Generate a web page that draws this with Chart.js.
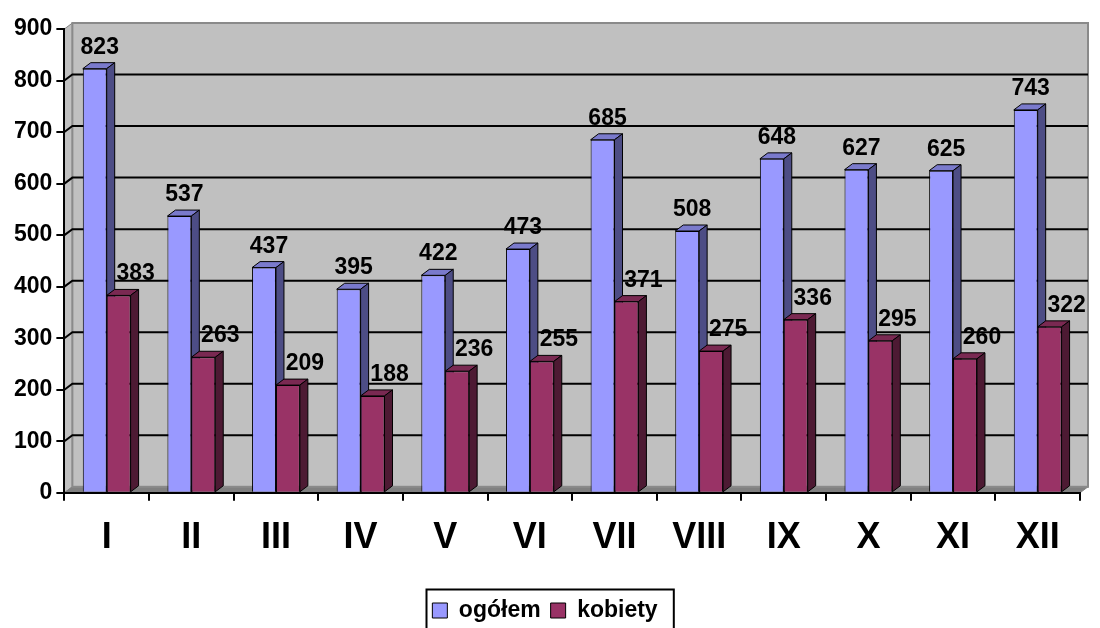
<!DOCTYPE html>
<html>
<head>
<meta charset="utf-8">
<script src="https://cdn.jsdelivr.net/npm/chart.js@4.4.0/dist/chart.umd.min.js"></script>
<style>
html, body { margin: 0; padding: 0; background: #fff; }
#wrap { width: 1100px; height: 628px; }
</style>
</head>
<body>
<div id="wrap"><canvas id="chartMonthly"></canvas></div>
<script>
// dane
const months = ['I', 'II', 'III', 'IV', 'V', 'VI', 'VII', 'VIII', 'IX', 'X', 'XI', 'XII'];
const ogolem = [823, 537, 437, 395, 422, 473, 685, 508, 648, 627, 625, 743];
const kobiety = [383, 263, 209, 188, 236, 255, 371, 275, 336, 295, 260, 322];
const yMax = 900;
const yStep = 100;

// głębokość 3D
const DX = 8, DY = 6;
const faces = [
    { top: '#7a7acc', side: '#4d4d85' },
    { top: '#7a2952', side: '#4d1a33' }
];
const labelShift = [5, 17];
const FONT = 'Arial, "Liberation Sans", sans-serif';

// ściany, podłoga, linie siatki
const wallPlugin = {
    id: 'wall3d',
    beforeDraw(chart) {
        const { ctx, chartArea: a, scales } = chart;
        const y = scales.y;
        ctx.save();
        ctx.fillStyle = '#c0c0c0';
        ctx.fillRect(a.left + DX, a.top - DY, a.right - a.left, a.bottom - a.top);
        // lewa ściana
        ctx.beginPath();
        ctx.moveTo(a.left, a.top);
        ctx.lineTo(a.left + DX, a.top - DY);
        ctx.lineTo(a.left + DX, a.bottom - DY);
        ctx.lineTo(a.left, a.bottom);
        ctx.closePath();
        ctx.fill();
        ctx.strokeStyle = '#808080';
        ctx.lineWidth = 1;
        ctx.stroke();
        // podłoga
        ctx.beginPath();
        ctx.moveTo(a.left, a.bottom);
        ctx.lineTo(a.left + DX, a.bottom - DY);
        ctx.lineTo(a.right + DX, a.bottom - DY);
        ctx.lineTo(a.right, a.bottom);
        ctx.closePath();
        ctx.fillStyle = '#808080';
        ctx.fill();
        ctx.stroke();
        // obrys tylnej ściany
        ctx.strokeStyle = '#8a8a8a';
        ctx.lineWidth = 2;
        ctx.strokeRect(a.left + DX, a.top - DY, a.right - a.left, a.bottom - a.top);
        // siatka
        ctx.strokeStyle = '#000';
        ctx.lineWidth = 2;
        y.ticks.forEach(t => {
            if (t.value === 0 || t.value === yMax) return;
            const py = y.getPixelForValue(t.value);
            ctx.beginPath();
            ctx.moveTo(a.left, py);
            ctx.lineTo(a.left + DX, py - DY);
            ctx.lineTo(a.right + DX, py - DY);
            ctx.stroke();
        });
        ctx.restore();
    },
    beforeDatasetsDraw(chart) {
        const ctx = chart.ctx;
        ctx.save();
        ctx.strokeStyle = '#000';
        ctx.lineWidth = 1;
        chart.data.datasets.forEach((ds, i) => {
            const meta = chart.getDatasetMeta(i);
            meta.data.forEach(bar => {
                const { x, y, base, width } = bar.getProps(['x', 'y', 'base', 'width'], true);
                const l = x - width / 2, r = x + width / 2;
                // góra
                ctx.beginPath();
                ctx.moveTo(l, y);
                ctx.lineTo(l + DX, y - DY);
                ctx.lineTo(r + DX, y - DY);
                ctx.lineTo(r, y);
                ctx.closePath();
                ctx.fillStyle = faces[i].top;
                ctx.fill();
                ctx.stroke();
                // bok
                ctx.beginPath();
                ctx.moveTo(r, y);
                ctx.lineTo(r + DX, y - DY);
                ctx.lineTo(r + DX, base - DY);
                ctx.lineTo(r, base);
                ctx.closePath();
                ctx.fillStyle = faces[i].side;
                ctx.fill();
                ctx.stroke();
            });
        });
        ctx.restore();
    },
    afterDatasetsDraw(chart) {
        const ctx = chart.ctx;
        ctx.save();
        ctx.font = 'bold 23px ' + FONT;
        ctx.fillStyle = '#000';
        ctx.textAlign = 'center';
        ctx.textBaseline = 'alphabetic';
        chart.data.datasets.forEach((ds, i) => {
            const meta = chart.getDatasetMeta(i);
            meta.data.forEach((bar, j) => {
                const { x, y } = bar.getProps(['x', 'y'], true);
                ctx.fillText(ds.data[j], x + labelShift[i], y - 15);
            });
        });
        ctx.restore();
    },
    afterDraw(chart) {
        // ramka legendy
        const boxes = chart.legend.legendHitBoxes;
        if (!boxes || !boxes.length) return;
        const left = Math.min(...boxes.map(b => b.left)) - 6;
        const right = Math.max(...boxes.map(b => b.left + b.width)) + 16;
        const top = Math.min(...boxes.map(b => b.top)) - 10;
        const bottom = Math.max(...boxes.map(b => b.top + b.height)) + 12;
        const ctx = chart.ctx;
        ctx.save();
        ctx.strokeStyle = '#000';
        ctx.lineWidth = 2;
        ctx.strokeRect(Math.round(left) + 0.5, Math.round(top) + 0.5, right - left, bottom - top);
        ctx.restore();
    }
};

function getChart() {
    const ctx = document.getElementById('chartMonthly');
    new Chart(ctx, {
        type: 'bar',
        data: {
            labels: months,
            datasets: [{
                label: 'ogółem',
                data: ogolem,
                backgroundColor: '#9999ff',
                borderColor: '#000',
                borderWidth: 1
            }, {
                label: 'kobiety',
                data: kobiety,
                backgroundColor: '#993366',
                borderColor: '#000',
                borderWidth: 1
            }]
        },
        options: {
            responsive: true,
            maintainAspectRatio: false,
            animation: false,
            categoryPercentage: 0.565,
            barPercentage: 1,
            layout: { padding: { top: 29, right: 20, left: 10, bottom: -4 } },
            plugins: {
                tooltip: { enabled: false },
                legend: {
                    position: 'bottom',
                    labels: {
                        color: '#000',
                        font: { family: FONT, size: 23, weight: 'bold' },
                        boxWidth: 15,
                        boxHeight: 15,
                        padding: 10
                    }
                }
            },
            scales: {
                x: {
                    grid: { drawOnChartArea: false, tickLength: 8, color: '#000', lineWidth: 2 },
                    border: { color: '#000', width: 2 },
                    ticks: {
                        color: '#000',
                        padding: 16,
                        font: { family: FONT, size: 36, weight: 'bold' }
                    },
                    afterFit(scale) { scale.height += 13; }
                },
                y: {
                    min: 0,
                    max: yMax,
                    grid: { drawOnChartArea: false, tickLength: 8, color: '#000', lineWidth: 2 },
                    border: { color: '#000', width: 2 },
                    ticks: {
                        stepSize: yStep,
                        color: '#000',
                        padding: 4,
                        font: { family: FONT, size: 23, weight: 'bold' }
                    }
                }
            }
        },
        plugins: [wallPlugin]
    });
}

window.addEventListener('DOMContentLoaded', function() {
    getChart();
});
</script>
</body>
</html>
